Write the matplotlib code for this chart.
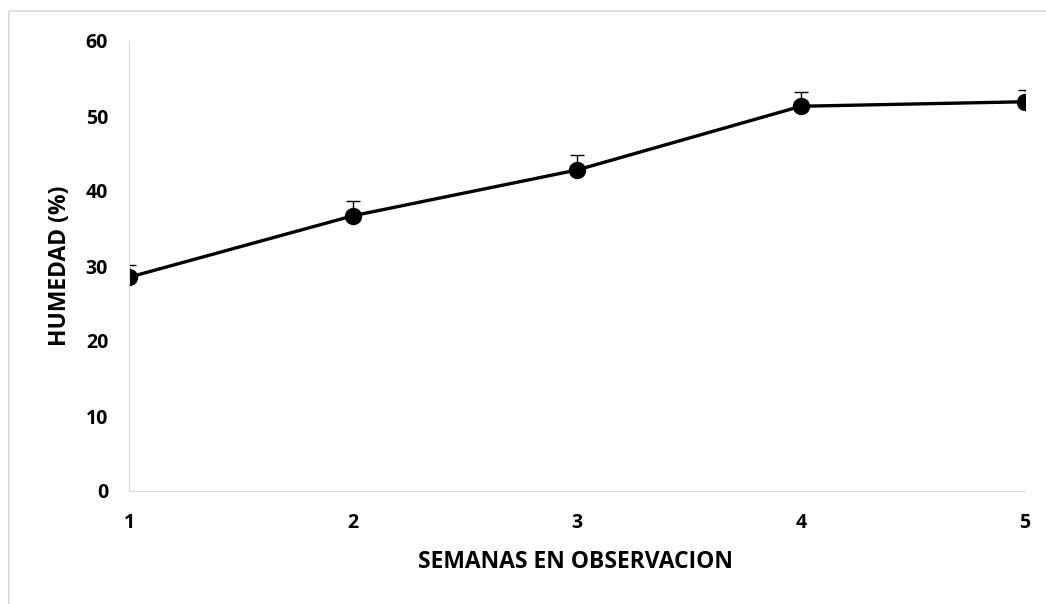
import matplotlib.pyplot as plt
from matplotlib.patches import Rectangle

semanas = [1, 2, 3, 4, 5]
humedad = [28.5, 36.7, 42.8, 51.3, 51.9]
error_sup = [1.6, 2.0, 2.0, 1.9, 1.6]

plt.rcParams['font.family'] = ['Open Sans', 'DejaVu Sans']

fig = plt.figure(figsize=(10.46, 6.04), dpi=100)
ax = fig.add_axes([129/1046, 113/604, (1025-129)/1046, (491-41)/604])

# borde exterior del grafico (solo se ven el lado izquierdo y el superior)
fig.patches.append(Rectangle((9/1046, -0.05), 1.2, (593/604) + 0.05,
                             transform=fig.transFigure, fill=False,
                             edgecolor='#d9d9d9', linewidth=1.2))

ax.errorbar(semanas, humedad, yerr=[[0]*5, error_sup], color='black',
            linewidth=2.4, marker='o', markersize=11.5, ecolor='black',
            elinewidth=1, capsize=5, capthick=1)

ax.set_xlim(1, 5)
ax.set_ylim(0, 60)
ax.set_xticks(semanas)
ax.set_yticks(range(0, 61, 10))
ax.spines['top'].set_visible(False)
ax.spines['right'].set_visible(False)
ax.spines['left'].set_color('#d9d9d9')
ax.spines['bottom'].set_color('#d9d9d9')
ax.tick_params(length=0, labelsize=14)
ax.tick_params(axis='x', pad=16)
ax.tick_params(axis='y', pad=15)
for t in ax.get_xticklabels() + ax.get_yticklabels():
    t.set_fontweight('bold')

fig.text(575.5/1046, 1 - 562/604, 'SEMANAS EN OBSERVACION', fontsize=16.5,
         fontweight='bold', ha='center', va='center')
fig.text(60/1046, 1 - 266/604, 'HUMEDAD (%)', fontsize=16.5,
         fontweight='bold', ha='center', va='center', rotation=90)

fig.savefig('out.png', dpi=100)
